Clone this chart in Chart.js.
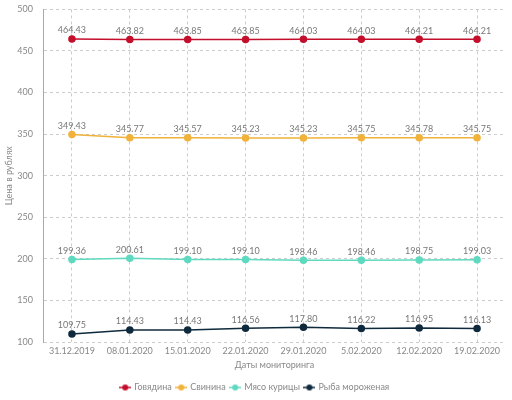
<!DOCTYPE html>
<html lang="ru">
<head>
<meta charset="UTF-8">
<title>Цены</title>
<script src="https://cdn.jsdelivr.net/npm/chart.js"></script>
<style>
  html, body { margin: 0; padding: 0; background: #fff; overflow: hidden; }
  #wrap { position: relative; top: -6px; width: 512px; height: 408px; }
</style>
</head>
<body>
<div id="wrap"><canvas id="chart"></canvas></div>
<script>
const dates = ['31.12.2019', '08.01.2020', '15.01.2020', '22.01.2020', '29.01.2020', '5.02.2020', '12.02.2020', '19.02.2020'];
const beef    = [464.43, 463.82, 463.85, 463.85, 464.03, 464.03, 464.21, 464.21];
const pork    = [349.43, 345.77, 345.57, 345.23, 345.23, 345.75, 345.78, 345.75];
const chicken = [199.36, 200.61, 199.10, 199.10, 198.46, 198.46, 198.75, 199.03];
const fish    = [109.75, 114.43, 114.43, 116.56, 117.80, 116.22, 116.95, 116.13];
const seriesNames = ['Говядина', 'Свинина', 'Мясо курицы', 'Рыба мороженая'];
const seriesColors = ['#c40f2c', '#f0b23a', '#5fd9bf', '#0f2a3d'];

// маркер легенды: линия + кружок
function legendMarker(color) {
  const c = document.createElement('canvas');
  c.width = 12; c.height = 8;
  const g = c.getContext('2d');
  g.strokeStyle = color; g.lineWidth = 1.5;
  g.beginPath(); g.moveTo(0, 4); g.lineTo(12, 4); g.stroke();
  g.fillStyle = color;
  g.beginPath(); g.arc(6, 4, 3, 0, Math.PI * 2); g.fill();
  return c;
}

// подписи значений над точками
const valueLabels = {
  id: 'valueLabels',
  afterDatasetsDraw(chart) {
    const ctx = chart.ctx;
    ctx.save();
    ctx.font = '9px Lato';
    ctx.fillStyle = '#777';
    ctx.textAlign = 'center';
    ctx.textBaseline = 'bottom';
    chart.data.datasets.forEach((ds, i) => {
      chart.getDatasetMeta(i).data.forEach((pt, j) => {
        ctx.fillText(ds.data[j].toFixed(2), pt.x, pt.y - 4);
      });
    });
    ctx.restore();
  }
};

const allSeries = [beef, pork, chicken, fish];
Chart.defaults.font.family = 'Lato';
Chart.defaults.color = '#888';

new Chart(document.getElementById('chart'), {
  type: 'line',
  data: {
    labels: dates,
    datasets: allSeries.map((s, i) => ({
      label: seriesNames[i],
      data: s,
      borderColor: seriesColors[i],
      backgroundColor: seriesColors[i],
      borderWidth: 1.5,
      pointRadius: 3,
      pointHoverRadius: 4,
      tension: 0,
      fill: false
    }))
  },
  options: {
    responsive: true,
    maintainAspectRatio: false,
    animation: false,
    layout: { padding: { top: 0, right: 6, left: 4, bottom: 0 } },
    scales: {
      x: {
        offset: true,
        grid: { color: '#cccccc', drawTicks: false },
        border: { display: false, dash: [3, 3] },
        ticks: { font: { size: 9, lineHeight: 1 }, color: '#888', padding: 5, maxRotation: 0 },
        title: { display: true, text: 'Даты мониторинга', font: { size: 9, lineHeight: 1 }, color: '#888', padding: { top: 0, bottom: 8 } }
      },
      y: {
        min: 100,
        max: 500,
        afterFit: (scale) => { scale.width = 39; },
        grid: { color: '#cccccc', drawTicks: false },
        border: { display: true, color: '#aaa', dash: [3, 3] },
        ticks: { stepSize: 50, font: { size: 9 }, color: '#888', padding: 10 },
        title: { display: true, text: 'Цена в рублях', font: { size: 9 }, color: '#888', padding: 0 }
      }
    },
    plugins: {
      legend: {
        position: 'bottom',
        labels: {
          usePointStyle: true,
          pointStyleWidth: 9,
          font: { size: 9 },
          color: '#888',
          boxHeight: 8,
          padding: 5,
          generateLabels: (chart) => chart.data.datasets.map((ds, i) => ({
            text: ds.label,
            pointStyle: legendMarker(seriesColors[i]),
            fillStyle: seriesColors[i],
            strokeStyle: seriesColors[i],
            fontColor: '#888',
            datasetIndex: i,
            hidden: !chart.isDatasetVisible(i)
          }))
        }
      },
      tooltip: { mode: 'index', intersect: false }
    }
  },
  plugins: [valueLabels]
});
</script>
</body>
</html>
